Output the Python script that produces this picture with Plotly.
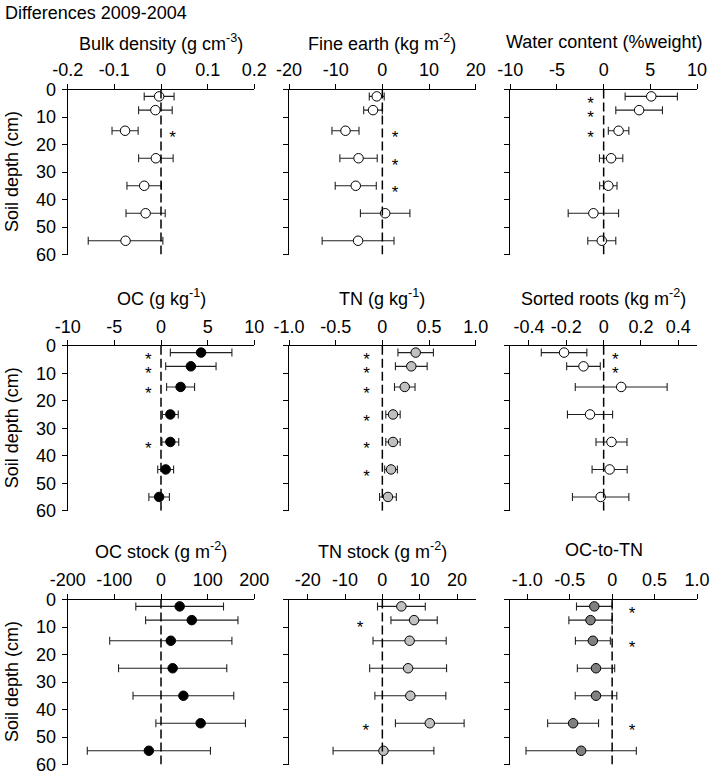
import plotly.graph_objects as go

# ---------------- data ----------------
depths = [2.5, 7.5, 15, 25, 35, 45, 55]

bd_mean = [-0.004, -0.012, -0.077, -0.011, -0.036, -0.033, -0.076]
bd_err = [0.032, 0.036, 0.028, 0.037, 0.037, 0.042, 0.080]
bd_star = [None, None, 0.025, None, None, None, None]

fe_mean = [-1.2, -2.0, -7.9, -5.1, -5.7, 0.6, -5.2]
fe_err = [1.6, 2.0, 2.9, 4.0, 4.4, 5.3, 7.7]
fe_star = [None, None, 2.7, 2.7, 2.7, None, None]

wc_mean = [5.1, 3.8, 1.6, 0.8, 0.5, -1.1, -0.2]
wc_err = [2.8, 2.5, 1.1, 1.25, 0.93, 2.7, 1.5]
wc_star = [-1.4, -1.4, -1.4, None, None, None, None]

oc_mean = [4.3, 3.2, 2.1, 1.0, 1.0, 0.5, -0.2]
oc_err = [3.3, 2.7, 1.5, 0.85, 0.9, 0.85, 1.1]
oc_star = [-1.36, -1.36, -1.36, None, -1.36, None, None]

tn_mean = [0.357, 0.31, 0.24, 0.114, 0.114, 0.093, 0.06]
tn_err = [0.19, 0.17, 0.11, 0.077, 0.077, 0.068, 0.09]
tn_star = [-0.17, -0.17, -0.17, -0.17, -0.17, -0.17, None]

sr_mean = [-0.212, -0.108, 0.094, -0.073, 0.042, 0.032, -0.016]
sr_err = [0.122, 0.09, 0.246, 0.121, 0.083, 0.094, 0.151]
sr_star = [0.062, 0.062, None, None, None, None, None]

ocs_mean = [40, 66, 21, 25, 48, 85, -26]
ocs_err = [94, 99, 131, 116, 108, 96, 132]
ocs_star = [None] * 7

tns_mean = [5.1, 8.5, 7.3, 6.9, 7.5, 12.7, 0.3]
tns_err = [6.4, 6.2, 9.8, 10.3, 9.5, 9.2, 13.5]
tns_star = [None, -6.0, None, None, None, -4.4, None]

octn_mean = [-0.21, -0.255, -0.227, -0.19, -0.19, -0.46, -0.365]
octn_err = [0.21, 0.255, 0.206, 0.22, 0.245, 0.30, 0.65]
octn_star = [0.235, None, 0.235, None, None, 0.235, None]

titles = ["Bulk density (g cm<sup>-3</sup>)", "Fine earth (kg m<sup>-2</sup>)", "Water content (%weight)",
          "OC (g kg<sup>-1</sup>)", "TN (g kg<sup>-1</sup>)", "Sorted roots (kg m<sup>-2</sup>)",
          "OC stock (g m<sup>-2</sup>)", "TN stock (g m<sup>-2</sup>)", "OC-to-TN"]

xticks = [
    ([-0.2, -0.1, 0, 0.1, 0.2], ["-0.2", "-0.1", "0", "0.1", "0.2"]),
    ([-20, -10, 0, 10, 20], ["-20", "-10", "0", "10", "20"]),
    ([-10, -5, 0, 5, 10], ["-10", "-5", "0", "5", "10"]),
    ([-10, -5, 0, 5, 10], ["-10", "-5", "0", "5", "10"]),
    ([-1.0, -0.5, 0, 0.5, 1.0], ["-1.0", "-0.5", "0", "0.5", "1.0"]),
    ([-0.4, -0.2, 0, 0.2, 0.4], ["-0.4", "-0.2", "0", "0.2", "0.4"]),
    ([-200, -100, 0, 100, 200], ["-200", "-100", "0", "100", "200"]),
    ([-20, -10, 0, 10, 20], ["-20", "-10", "0", "10", "20"]),
    ([-1.0, -0.5, 0, 0.5, 1.0], ["-1.0", "-0.5", "0", "0.5", "1.0"]),
]
xranges = [[-0.2, 0.2], [-20, 20], [-10, 10], [-10, 10], [-1, 1], [-0.5, 0.5],
           [-200, 200], [-25, 25], [-1.2, 1.0]]

yticks = [0, 10, 20, 30, 40, 50, 60]

panels = [
    (bd_mean, bd_err, bd_star, "white"),
    (fe_mean, fe_err, fe_star, "white"),
    (wc_mean, wc_err, wc_star, "white"),
    (oc_mean, oc_err, oc_star, "black"),
    (tn_mean, tn_err, tn_star, "#c0c0c0"),
    (sr_mean, sr_err, sr_star, "white"),
    (ocs_mean, ocs_err, ocs_star, "black"),
    (tns_mean, tns_err, tns_star, "#c0c0c0"),
    (octn_mean, octn_err, octn_star, "#808080"),
]

# ---------------- layout geometry (pixels) ----------------
W, H = 715, 775
col_px = [(67.7, 254.3), (289.0, 475.7), (510.3, 697.0)]
row_px = [(89.5, 254.5), (345.7, 510.7), (599.5, 764.5)]
title_y_px = [42, 297, 550]

FONT = "Arial, 'Liberation Sans', sans-serif"
fig = go.Figure()
annotations = []
shapes = []

for i, (mean, err, star, fill) in enumerate(panels):
    r, c = divmod(i, 3)
    n = i + 1
    xa = "x" if n == 1 else f"x{n}"
    ya = "y" if n == 1 else f"y{n}"
    fig.add_trace(go.Scatter(
        x=mean, y=depths, xaxis=xa, yaxis=ya, mode="markers",
        marker=dict(size=9.5, color=fill, line=dict(color="black", width=1)),
        error_x=dict(type="data", array=err, visible=True, color="#222222",
                     thickness=1.1, width=4),
        showlegend=False, hoverinfo="x+y"))
    sx = [s for s in star if s is not None]
    sy = [d + 3.0 for s, d in zip(star, depths) if s is not None]
    if sx:
        fig.add_trace(go.Scatter(
            x=sx, y=sy, xaxis=xa, yaxis=ya, mode="text", text=["*"] * len(sx),
            textfont=dict(size=17, color="black", family=FONT),
            textposition="middle center", showlegend=False, hoverinfo="skip"))
    x0, x1 = col_px[c]
    y0, y1 = row_px[r]
    xd = [x0 / W, x1 / W]
    yd = [1 - y1 / H, 1 - y0 / H]
    tv, tt = xticks[i]
    fig.layout[f"xaxis{'' if n == 1 else n}"] = dict(
        domain=xd, anchor=ya, range=xranges[i], side="top", automargin=False,
        tickvals=tv, ticktext=tt, ticks="outside", ticklen=5, tickwidth=1,
        tickcolor="black", showline=True, linecolor="black", linewidth=1,
        showgrid=False, zeroline=False, tickfont=dict(size=18, family=FONT, color="black"))
    fig.layout[f"yaxis{'' if n == 1 else n}"] = dict(
        domain=yd, anchor=xa, range=[60, 0], tickvals=yticks, automargin=False,
        ticktext=[str(v) for v in yticks] if c == 0 else [""] * len(yticks),
        ticks="outside", ticklen=5, tickwidth=1, tickcolor="black",
        showline=True, linecolor="black", linewidth=1, showgrid=False,
        zeroline=False, tickfont=dict(size=18, family=FONT, color="black"),
        ticklabelstandoff=2)
    shapes.append(dict(type="line", xref=xa, yref=ya, x0=0, x1=0, y0=0, y1=61,
                       line=dict(color="black", width=1.5, dash="9px,4px")))
    annotations.append(dict(text=titles[i], x=(xd[0] + xd[1]) / 2, y=1 - title_y_px[r] / H,
                            xref="paper", yref="paper", showarrow=False,
                            xanchor="center", yanchor="middle",
                            font=dict(size=18, family=FONT, color="black")))
    if c == 0:
        annotations.append(dict(text="Soil depth (cm)", x=12 / W, y=1 - (y0 + y1) / 2 / H,
                                xref="paper", yref="paper", showarrow=False, textangle=-90,
                                xanchor="center", yanchor="middle",
                                font=dict(size=18, family=FONT, color="black")))

annotations.append(dict(text="Differences 2009-2004", x=3 / W, y=1 - 13 / H, xref="paper",
                        yref="paper", showarrow=False, xanchor="left", yanchor="middle",
                        font=dict(size=18, family=FONT, color="black")))

fig.update_layout(template="none", width=W, height=H,
                  margin=dict(l=0, r=0, t=0, b=0, pad=0, autoexpand=False),
                  plot_bgcolor="white", paper_bgcolor="white", showlegend=False,
                  font=dict(family=FONT, size=18, color="black"),
                  annotations=annotations, shapes=shapes)

fig.write_html("out.html", config={"displayModeBar": False},
               post_script="document.body.style.margin='0';document.body.style.padding='0';"
                           "document.documentElement.style.overflow='hidden';")
